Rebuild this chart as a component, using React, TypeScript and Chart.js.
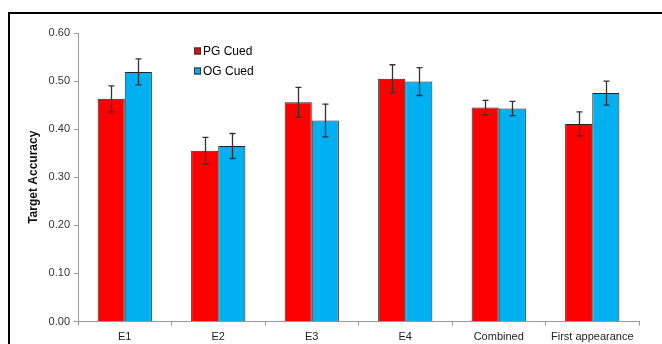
import React, { useEffect, useRef } from "react";
import { Chart, registerables } from "chart.js";

Chart.register(...registerables);

const categories = ["E1", "E2", "E3", "E4", "Combined", "First appearance"];
const pgCued = [0.463, 0.355, 0.456, 0.505, 0.445, 0.411];
const ogCued = [0.519, 0.365, 0.418, 0.499, 0.443, 0.475];
const pgErr = [0.027, 0.028, 0.031, 0.029, 0.015, 0.025];
const ogErr = [0.027, 0.026, 0.034, 0.029, 0.015, 0.025];
const seriesNames = ["PG Cued", "OG Cued"];
const seriesColors = ["#ff0000", "#00b0f0"];

const FONT = "'Liberation Sans', Arial, sans-serif";

const errorBarPlugin = {
  id: "errorBars",
  afterDatasetsDraw(chart: any) {
    const ctx = chart.ctx;
    const yScale = chart.scales.y;
    const errs = [pgErr, ogErr];
    chart.data.datasets.forEach((ds: any, di: number) => {
      const meta = chart.getDatasetMeta(di);
      meta.data.forEach((bar: any, i: number) => {
        const v = ds.data[i];
        const e = errs[di][i];
        const yTop = yScale.getPixelForValue(v + e);
        const yBot = yScale.getPixelForValue(v - e);
        const x = Math.round(bar.x) + 0.5;
        ctx.save();
        ctx.strokeStyle = "#333333";
        ctx.lineWidth = 1.3;
        ctx.beginPath();
        ctx.moveTo(x, yTop);
        ctx.lineTo(x, yBot);
        ctx.moveTo(x - 3, yTop);
        ctx.lineTo(x + 3, yTop);
        ctx.moveTo(x - 3, yBot);
        ctx.lineTo(x + 3, yBot);
        ctx.stroke();
        ctx.restore();
      });
    });
  },
};

const legendAndBorderPlugin = {
  id: "customLegend",
  afterDraw(chart: any) {
    const ctx = chart.ctx;
    ctx.save();
    // outer frame
    ctx.strokeStyle = "#000";
    ctx.lineWidth = 2;
    ctx.beginPath();
    ctx.moveTo(9, 400);
    ctx.lineTo(9, 13);
    ctx.lineTo(700, 13);
    ctx.stroke();
    // legend
    ctx.font = `12px ${FONT}`;
    ctx.textBaseline = "middle";
    seriesNames.forEach((name, i) => {
      const y = 51 + i * 20;
      ctx.fillStyle = seriesColors[i];
      ctx.fillRect(194, y - 3.5, 7, 7);
      ctx.strokeStyle = "#333";
      ctx.lineWidth = 1;
      ctx.strokeRect(194.5, y - 3, 6, 6);
      ctx.fillStyle = "#000";
      ctx.fillText(name, 203, y + 0.5);
    });
    ctx.restore();
  },
};

export default function App() {
  const ref = useRef<HTMLCanvasElement>(null);
  useEffect(() => {
    document.body.style.margin = "0";
    const chart = new Chart(ref.current as HTMLCanvasElement, {
      type: "bar",
      data: {
        labels: categories,
        datasets: [
          {
            label: seriesNames[0],
            data: pgCued,
            backgroundColor: seriesColors[0],
            borderColor: "#222222",
            borderWidth: 1,
            categoryPercentage: 0.58,
            barPercentage: 1.0,
          },
          {
            label: seriesNames[1],
            data: ogCued,
            backgroundColor: seriesColors[1],
            borderColor: "#222222",
            borderWidth: 1,
            categoryPercentage: 0.58,
            barPercentage: 1.0,
          },
        ],
      },
      options: {
        animation: false,
        responsive: false,
        devicePixelRatio: 1,
        layout: { padding: { left: 0, right: 23, top: 33, bottom: 0 } },
        plugins: {
          legend: { display: false },
          tooltip: { enabled: false },
        },
        scales: {
          x: {
            grid: {
              display: true,
              drawOnChartArea: false,
              drawTicks: true,
              tickLength: 4,
              color: "#999999",
              offset: true,
            },
            border: { color: "#999999" },
            ticks: {
              color: "#222222",
              font: { family: FONT, size: 11 },
              padding: 5,
              maxRotation: 0,
            },
            afterFit(scale: any) {
              scale.height = 22.5;
            },
          },
          y: {
            min: 0,
            max: 0.6,
            grid: {
              display: true,
              drawOnChartArea: false,
              drawTicks: true,
              tickLength: 4,
              color: "#999999",
            },
            border: { color: "#999999" },
            ticks: {
              stepSize: 0.1,
              color: "#333333",
              font: { family: FONT, size: 11 },
              padding: 4,
              callback: (v: any) => Number(v).toFixed(2),
            },
            title: {
              display: true,
              text: "Target Accuracy",
              color: "#111111",
              font: { family: FONT, size: 12, weight: "bold" },
              padding: { top: 26, bottom: 0 },
            },
            afterFit(scale: any) {
              scale.width = 78;
            },
          },
        },
      },
      plugins: [errorBarPlugin, legendAndBorderPlugin],
    });
    return () => chart.destroy();
  }, []);
  return <canvas ref={ref} width={662} height={344} style={{ display: "block" }} />;
}
